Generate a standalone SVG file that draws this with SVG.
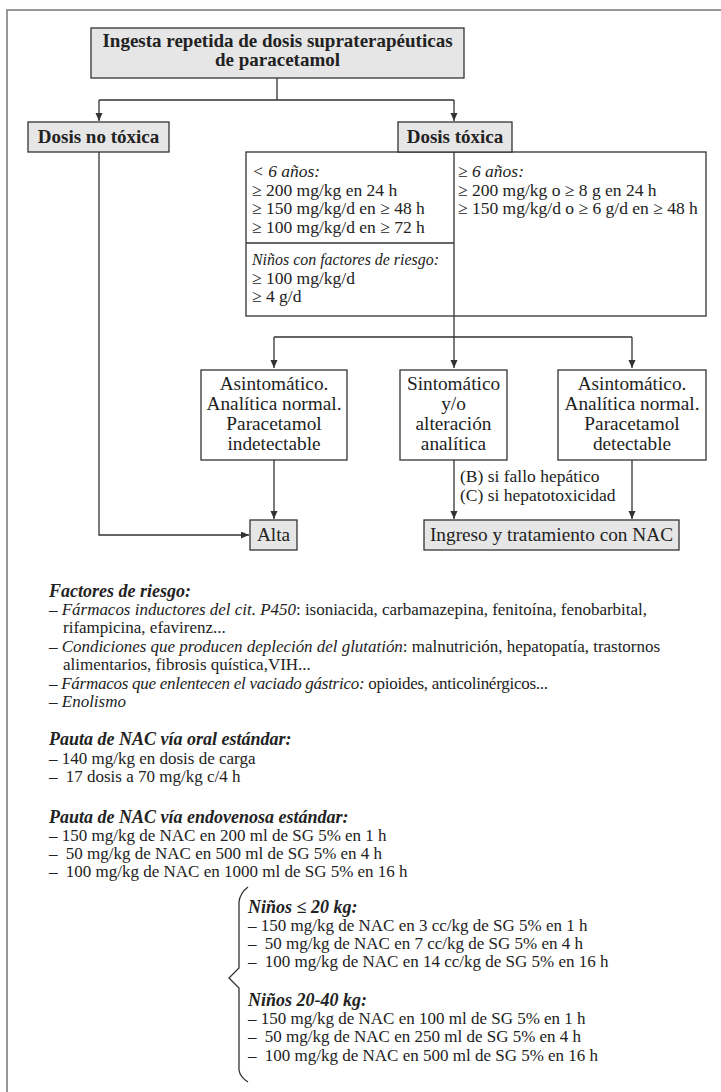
<svg xmlns="http://www.w3.org/2000/svg" width="721" height="1092" viewBox="0 0 721 1092">
<defs>
<marker id="arr" markerWidth="8" markerHeight="8" refX="8" refY="3.5" orient="auto" markerUnits="userSpaceOnUse"><path d="M0,0 L8,3.5 L0,7 Z" fill="#333"/></marker>
<style>
text{font-family:"Liberation Serif","Times New Roman",serif;fill:#222}
.box{fill:#fff;stroke:#333;stroke-width:1.3}
.gbox{fill:#e6e6e6;stroke:#333;stroke-width:1.3}
.h{font-weight:bold;font-size:19px}
.n{font-size:19.3px}
.c{font-size:17.5px}
.b{font-size:17px}
.lb{font-size:17.5px}
.bh{font-size:18px;font-weight:bold;font-style:italic}
.i{font-style:italic}
.ln{fill:none;stroke:#333;stroke-width:1.3}
.ar{marker-end:url(#arr)}
.mid{text-anchor:middle}
</style>
</defs>
<rect x="0" y="0" width="721" height="1092" fill="#fff"/>
<rect x="7" y="10" width="730" height="1100" fill="#fff" stroke="#777" stroke-width="1.5"/>

<g id="connectors">
<path class="ln" d="M277,78 V100 M99,100 H454"/>
<path class="ln ar" d="M99,100 V121"/>
<path class="ln ar" d="M454,100 V121"/>
<path class="ln ar" d="M99,152 V535 H249"/>
<path class="ln ar" d="M454,316 V368"/>
<path class="ln" d="M274,337 H632"/>
<path class="ln ar" d="M274,337 V368"/>
<path class="ln ar" d="M632,337 V368"/>
<path class="ln ar" d="M274,460 V519"/>
<path class="ln ar" d="M454,460 V519"/>
<path class="ln ar" d="M632,460 V519"/>
<text class="lb" x="460" y="482">(B) si fallo hepático</text>
<text class="lb" x="460" y="501">(C) si hepatotoxicidad</text>
</g>

<g id="ingesta">
<rect class="gbox" x="91" y="28" width="373" height="50"/>
<text class="h mid" x="277.5" y="47">Ingesta repetida de dosis supraterapéuticas</text>
<text class="h mid" x="277.5" y="66">de paracetamol</text>
</g>

<g id="no-toxica">
<rect class="gbox" x="28" y="122" width="141" height="30"/>
<text class="h mid" x="98.5" y="143">Dosis no tóxica</text>
</g>

<g id="criterios">
<rect class="box" x="246" y="152" width="460" height="164"/>
<path class="ln" d="M454,152 V316 M246,243 H454"/>
<text class="c i" x="252" y="177">&lt; 6 años:</text>
<text class="c" x="252" y="196">≥ 200 mg/kg en 24 h</text>
<text class="c" x="252" y="214">≥ 150 mg/kg/d en ≥ 48 h</text>
<text class="c" x="252" y="233">≥ 100 mg/kg/d en ≥ 72 h</text>
<text class="c i" x="252" y="265" textLength="187" lengthAdjust="spacingAndGlyphs">Niños con factores de riesgo:</text>
<text class="c" x="252" y="284">≥ 100 mg/kg/d</text>
<text class="c" x="252" y="302">≥ 4 g/d</text>
<text class="c i" x="458" y="177">≥ 6 años:</text>
<text class="c" x="458" y="196">≥ 200 mg/kg o ≥ 8 g en 24 h</text>
<text class="c" x="458" y="214">≥ 150 mg/kg/d o ≥ 6 g/d en ≥ 48 h</text>
</g>

<g id="toxica">
<rect class="gbox" x="398" y="122" width="114" height="30"/>
<text class="h mid" x="455" y="143">Dosis tóxica</text>
</g>

<g id="asint-indet">
<rect class="box" x="201" y="370" width="146" height="90"/>
<text class="n mid" x="274" y="390">Asintomático.</text>
<text class="n mid" x="274" y="410">Analítica normal.</text>
<text class="n mid" x="274" y="430">Paracetamol</text>
<text class="n mid" x="274" y="450">indetectable</text>
</g>

<g id="sintomatico">
<rect class="box" x="400" y="370" width="107" height="90"/>
<text class="n mid" x="453.5" y="390">Sintomático</text>
<text class="n mid" x="453.5" y="410">y/o</text>
<text class="n mid" x="453.5" y="430">alteración</text>
<text class="n mid" x="453.5" y="450">analítica</text>
</g>

<g id="asint-det">
<rect class="box" x="558" y="370" width="148" height="90"/>
<text class="n mid" x="632" y="390">Asintomático.</text>
<text class="n mid" x="632" y="410">Analítica normal.</text>
<text class="n mid" x="632" y="430">Paracetamol</text>
<text class="n mid" x="632" y="450">detectable</text>
</g>

<g id="alta">
<rect class="gbox" x="250" y="520" width="47" height="30"/>
<text class="n mid" x="273.5" y="541">Alta</text>
</g>

<g id="ingreso">
<rect class="gbox" x="424" y="520" width="255" height="30"/>
<text class="n mid" x="551.5" y="541">Ingreso y tratamiento con NAC</text>
</g>

<g id="notas">
<text class="bh" x="49" y="597">Factores de riesgo:</text>
<text class="b" x="49" y="615" textLength="598" lengthAdjust="spacing">– <tspan class="i">Fármacos inductores del cit. P450</tspan>: isoniacida, carbamazepina, fenitoína, fenobarbital,</text>
<text class="b" x="63" y="633">rifampicina, efavirenz...</text>
<text class="b" x="49" y="652" textLength="611" lengthAdjust="spacing">– <tspan class="i">Condiciones que producen depleción del glutatión</tspan>: malnutrición, hepatopatía, trastornos</text>
<text class="b" x="63" y="670">alimentarios, fibrosis quística,VIH...</text>
<text class="b" x="49" y="689" textLength="499" lengthAdjust="spacing">– <tspan class="i">Fármacos que enlentecen el vaciado gástrico:</tspan> opioides, anticolinérgicos...</text>
<text class="b" x="49" y="707">– <tspan class="i">Enolismo</tspan></text>

<text class="bh" x="49" y="745">Pauta de NAC vía oral estándar:</text>
<text class="b" x="49" y="764">– 140 mg/kg en dosis de carga</text>
<text class="b" x="49" y="782">– <tspan dx="4">17 dosis a 70 mg/kg c/4 h</tspan></text>

<text class="bh" x="49" y="823">Pauta de NAC vía endovenosa estándar:</text>
<text class="b" x="49" y="841">– 150 mg/kg de NAC en 200 ml de SG 5% en 1 h</text>
<text class="b" x="49" y="859">– <tspan dx="4">50 mg/kg de NAC en 500 ml de SG 5% en 4 h</tspan></text>
<text class="b" x="49" y="877">– <tspan dx="4">100 mg/kg de NAC en 1000 ml de SG 5% en 16 h</tspan></text>

<path class="ln" stroke-width="1.2" d="M248,887 Q240,893 239,902 V968 L229,978 L239,988 V1070 Q240,1077 248,1082"/>
<text class="bh" x="248" y="913">Niños ≤ 20 kg:</text>
<text class="b" x="248" y="931">– 150 mg/kg de NAC en 3 cc/kg de SG 5% en 1 h</text>
<text class="b" x="248" y="949">– <tspan dx="4">50 mg/kg de NAC en 7 cc/kg de SG 5% en 4 h</tspan></text>
<text class="b" x="248" y="967">– <tspan dx="4">100 mg/kg de NAC en 14 cc/kg de SG 5% en 16 h</tspan></text>
<text class="bh" x="248" y="1006">Niños 20-40 kg:</text>
<text class="b" x="248" y="1024">– 150 mg/kg de NAC en 100 ml de SG 5% en 1 h</text>
<text class="b" x="248" y="1042">– <tspan dx="4">50 mg/kg de NAC en 250 ml de SG 5% en 4 h</tspan></text>
<text class="b" x="248" y="1061">– <tspan dx="4">100 mg/kg de NAC en 500 ml de SG 5% en 16 h</tspan></text>
</g>
</svg>
